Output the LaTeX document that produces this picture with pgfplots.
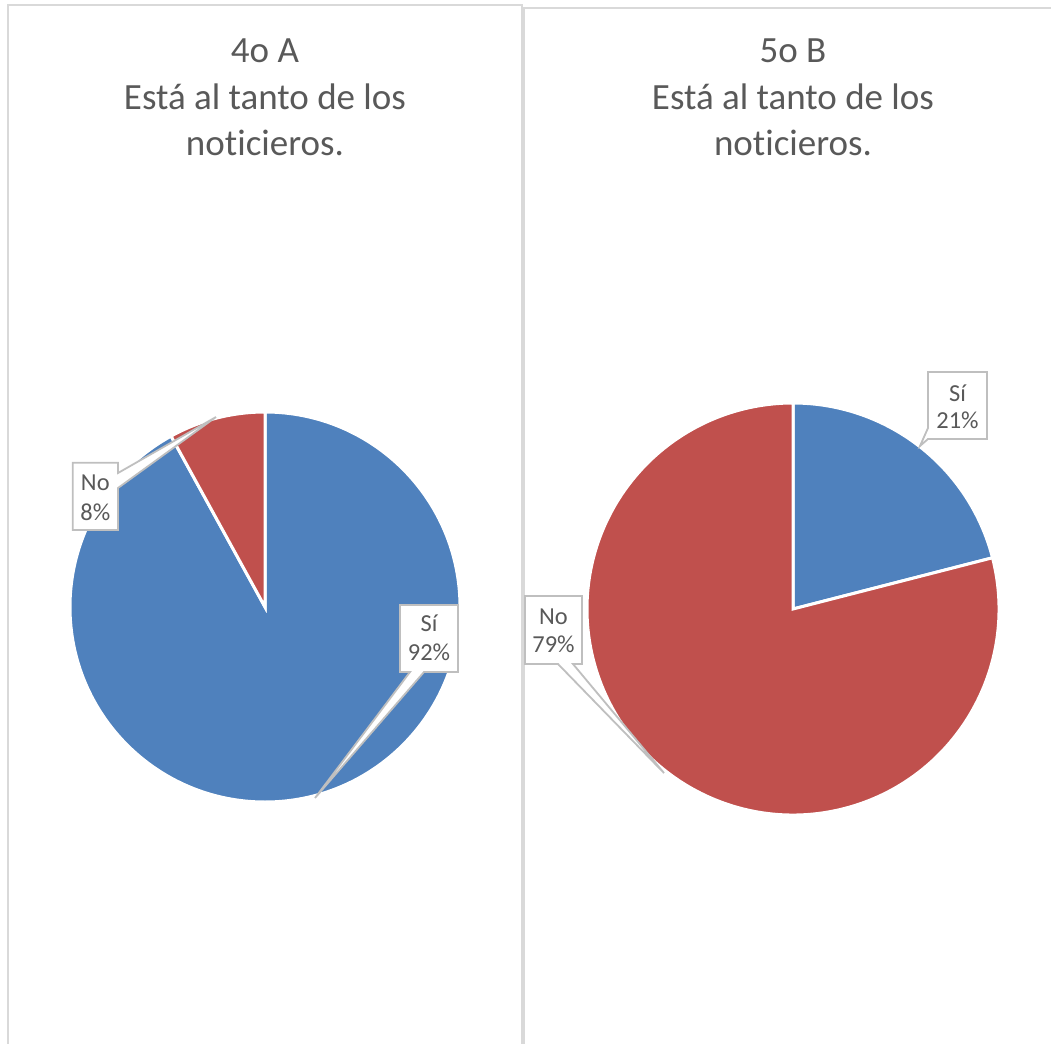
\documentclass[border=0pt]{standalone}
\usepackage{pgfplots}
\pgfplotsset{compat=1.18}
\usepackage{fontspec}
\setmainfont{Carlito}[Ligatures={NoCommon}]
\definecolor{sblue}{HTML}{4F81BD}
\definecolor{sred}{HTML}{C0504D}
\definecolor{txt}{HTML}{595959}
\definecolor{panel}{HTML}{D9D9D9}
\definecolor{callout}{HTML}{BFBFBF}
% data (percent)
\def\SiA{92}\def\NoA{8}
\def\SiB{21}\def\NoB{79}
\begin{document}
\begin{tikzpicture}
\path[use as bounding box] (0,0) rectangle (525.5pt,522pt);
\pgfmathsetmacro{\aA}{90-3.6*\SiA}
\pgfmathsetmacro{\aB}{90-3.6*\SiB}
\begin{axis}[hide axis, scale only axis, width=525.5pt, height=522pt,
  xmin=0, xmax=1051, ymin=0, ymax=1044, y dir=reverse,
  at={(0,0)}, anchor=south west]
% panels
\draw[panel, line width=0.9pt] (axis cs:8,1060) -- (axis cs:8,5) -- (axis cs:522,5) -- (axis cs:522,1060);
\draw[panel, line width=0.9pt] (axis cs:524,1060) -- (axis cs:524,8) -- (axis cs:1070,8);
% titles
\begin{scope}[every node/.style={text=txt, font=\fontsize{18.5}{23}\selectfont, anchor=base, inner sep=0pt}]
\node at (axis cs:265,62.5) {4o A};
\node at (axis cs:265,109) {Está al tanto de los};
\node at (axis cs:265,155) {noticieros.};
\node at (axis cs:793,62.5) {5o B};
\node at (axis cs:793,109) {Está al tanto de los};
\node at (axis cs:793,155) {noticieros.};
\end{scope}
% left pie
\filldraw[fill=sblue, draw=white, line width=1.5pt] (axis cs:265,607) -- ++(90:97.5pt) arc[start angle=90, end angle=\aA, radius=97.5pt] -- cycle;
\filldraw[fill=sred, draw=white, line width=1.5pt] (axis cs:265,607) -- ++(\aA:97.5pt) arc[start angle=\aA, end angle=-270, radius=97.5pt] -- cycle;
% right pie
\filldraw[fill=sblue, draw=white, line width=1.5pt] (axis cs:793,609) -- ++(90:103pt) arc[start angle=90, end angle=\aB, radius=103pt] -- cycle;
\filldraw[fill=sred, draw=white, line width=1.5pt] (axis cs:793,609) -- ++(\aB:103pt) arc[start angle=\aB, end angle=-270, radius=103pt] -- cycle;
% callouts
\begin{scope}[every path/.style={fill=white, draw=callout, line width=0.9pt, line join=miter}]
\path (axis cs:72.7,462.7) -- (axis cs:118,462.7) -- (axis cs:118,473) -- (axis cs:216,417) -- (axis cs:118,488) -- (axis cs:118,530) -- (axis cs:72.7,530) -- cycle;
\path (axis cs:400,605) -- (axis cs:458,605) -- (axis cs:458,672) -- (axis cs:424,672) -- (axis cs:315,798) -- (axis cs:410,672) -- (axis cs:400,672) -- cycle;
\path (axis cs:525,596) -- (axis cs:582,596) -- (axis cs:582,664) -- (axis cs:573,664) -- (axis cs:664,773) -- (axis cs:558,664) -- (axis cs:525,664) -- cycle;
\path (axis cs:928,372) -- (axis cs:987,372) -- (axis cs:987,439) -- (axis cs:928,439) -- (axis cs:920,446) -- (axis cs:928,428) -- cycle;
\end{scope}
\begin{scope}[every node/.style={text=txt, font=\fontsize{12.2}{14}\selectfont, anchor=base, inner sep=0pt}]
\node at (axis cs:95.3,490.7) {No};
\node at (axis cs:95.3,520) {\NoA\%};
\node at (axis cs:429,631.7) {Sí};
\node at (axis cs:429,660.7) {\SiA\%};
\node at (axis cs:553.5,624) {No};
\node at (axis cs:553.5,652.7) {\NoB\%};
\node at (axis cs:957.5,401) {Sí};
\node at (axis cs:957.5,428) {\SiB\%};
\end{scope}
\end{axis}
\end{tikzpicture}
\end{document}
